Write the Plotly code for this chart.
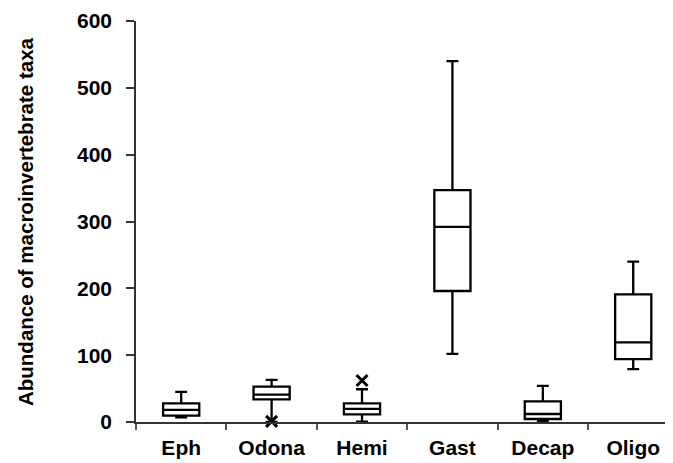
import plotly.graph_objects as go

categories = ["Eph", "Odona", "Hemi", "Gast", "Decap", "Oligo"]
q1 = [9.5, 34, 11.5, 196, 4.5, 94]
median = [18, 41, 19.5, 292, 12, 119]
q3 = [28, 53, 28, 347, 31, 191]
lower_whisker = [7, 0, 0.5, 102, 1, 79]
upper_whisker = [45, 63, 49, 540, 54, 240]
outlier_cats = ["Odona", "Hemi"]
outlier_vals = [1, 62]

y_ticks = [0, 100, 200, 300, 400, 500, 600]
y_title = "Abundance of macroinvertebrate taxa"

fig = go.Figure()
fig.add_trace(go.Box(
    x=categories, q1=q1, median=median, q3=q3,
    lowerfence=lower_whisker, upperfence=upper_whisker,
    fillcolor="white", line=dict(color="black", width=2.3),
    width=0.4, whiskerwidth=0.33, boxpoints=False, showlegend=False,
))
fig.add_trace(go.Scatter(
    x=outlier_cats, y=outlier_vals, mode="markers",
    marker=dict(symbol="x-thin-open", size=11, color="black",
                line=dict(color="black", width=3)),
    showlegend=False, cliponaxis=False,
))

font_family = "Liberation Sans, Arial, sans-serif"
L = 128
fig.update_layout(
    width=665, height=455,
    margin=dict(l=L, r=0, t=13, b=41, autoexpand=False),
    plot_bgcolor="white", paper_bgcolor="white",
    font=dict(family=font_family, color="black"),
    xaxis=dict(
        type="category", categoryorder="array", categoryarray=categories,
        range=[-0.5, 5.44], showline=True, linecolor="#333", linewidth=1.5,
        ticks="outside", tickson="boundaries", ticklen=6, tickcolor="#555", tickwidth=1.5,
        tickfont=dict(size=21, family=font_family, color="black", weight="bold"),
        ticklabelstandoff=6,
        showgrid=False, zeroline=False, mirror=False, automargin=False,
    ),
    yaxis=dict(
        range=[0, 600], tickvals=y_ticks, showline=True, linecolor="#333", linewidth=1.5,
        ticks="outside", ticklen=8, tickcolor="#333", tickwidth=1.5,
        tickfont=dict(size=21, family=font_family, color="black", weight="bold"),
        ticklabelstandoff=10, automargin=False,
        showgrid=False, zeroline=False,
    ),
    annotations=[dict(
        text=y_title, xref="paper", yref="paper", x=-L / (665 - L), y=0.5,
        xanchor="left", yanchor="middle", xshift=4, textangle=-90, showarrow=False,
        font=dict(size=20.5, family=font_family, color="black", weight="bold"),
    )],
)

fig.write_html("out.html")
